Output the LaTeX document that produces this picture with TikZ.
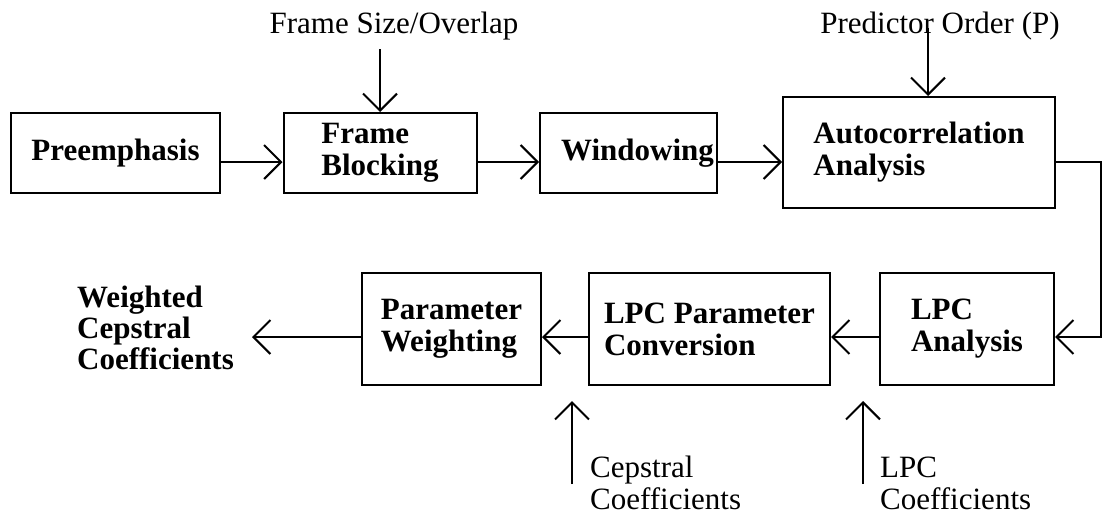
\documentclass[tikz,border=0pt]{standalone}
\usepackage{fontspec}
\setmainfont{Liberation Serif}
\usetikzlibrary{arrows.meta}
\begin{document}
\begin{tikzpicture}[x=1pt,y=-1pt,
  txt/.style={font=\fontsize{31}{32}\selectfont, inner sep=0pt},
  blk/.style={txt, draw, line width=2pt, font=\fontsize{31}{32}\selectfont\bfseries, align=left},
  arr/.style={line width=2pt, -{Straight Barb[length=17pt,width=34pt,line width=2pt]}}]
\useasboundingbox (0,0) rectangle (1104,517);
% row 1
\node[blk, minimum width=209pt, minimum height=80pt] (pre) at (115.5,153) {Preemphasis};
\node[blk, minimum width=193pt, minimum height=80pt] (fb) at (380,153) {Frame\\Blocking};
\node[blk, minimum width=177pt, minimum height=80pt] (win) at (628.5,153) {\hspace*{18pt}Windowing};
\node[blk, minimum width=272pt, minimum height=111pt] (ac) at (919,152.5) {Autocorrelation\\Analysis};
% row 2
\node[blk, minimum width=174pt, minimum height=112pt] (lpa) at (967,329) {LPC\\Analysis};
\node[blk, minimum width=241pt, minimum height=112pt] (lpc) at (709.5,329) {LPC Parameter\\Conversion};
\node[blk, minimum width=179pt, minimum height=112pt] (pw) at (451.5,329) {Parameter\\Weighting};
% labels
\node[txt, anchor=base] (fsz) at (394,33) {Frame Size/Overlap};
\node[txt, anchor=base] (po) at (940,33) {Predictor Order (P)};
\node[txt, font=\fontsize{31}{31}\selectfont\bfseries, align=left, anchor=west] (wcc) at (77,328) {Weighted\\Cepstral\\Coefficients};
\node[txt, align=left, anchor=west] (cc) at (590,483) {Cepstral\\Coefficients};
\node[txt, align=left, anchor=west] (lc) at (880,483) {LPC\\Coefficients};
% coordinates
\coordinate (row1) at (0,162);
\coordinate (row2) at (0,337);
\coordinate (fszs) at (380,49);
\coordinate (pos) at (928,28);
\coordinate (r1) at (1101,162);
\coordinate (r2) at (1101,337);
\coordinate (out) at (252,337);
\coordinate (cs) at (572,484);
\coordinate (ct) at (572,401);
\coordinate (ls) at (863,484);
\coordinate (lt) at (863,401);
% connectors
\draw[arr] (fszs) -- (fb.north -| fszs);
\draw[arr] (pos) -- (ac.north -| pos);
\draw[arr] (pre.east |- row1) -- (fb.west |- row1);
\draw[arr] (fb.east |- row1) -- (win.west |- row1);
\draw[arr] (win.east |- row1) -- (ac.west |- row1);
\draw[arr] (ac.east |- r1) -- (r1) -- (r2) -- (lpa.east |- r2);
\draw[arr] (lpa.west |- row2) -- (lpc.east |- row2);
\draw[arr] (lpc.west |- row2) -- (pw.east |- row2);
\draw[arr] (pw.west |- row2) -- (out);
\draw[arr] (cs) -- (ct);
\draw[arr] (ls) -- (lt);
\end{tikzpicture}
\end{document}
